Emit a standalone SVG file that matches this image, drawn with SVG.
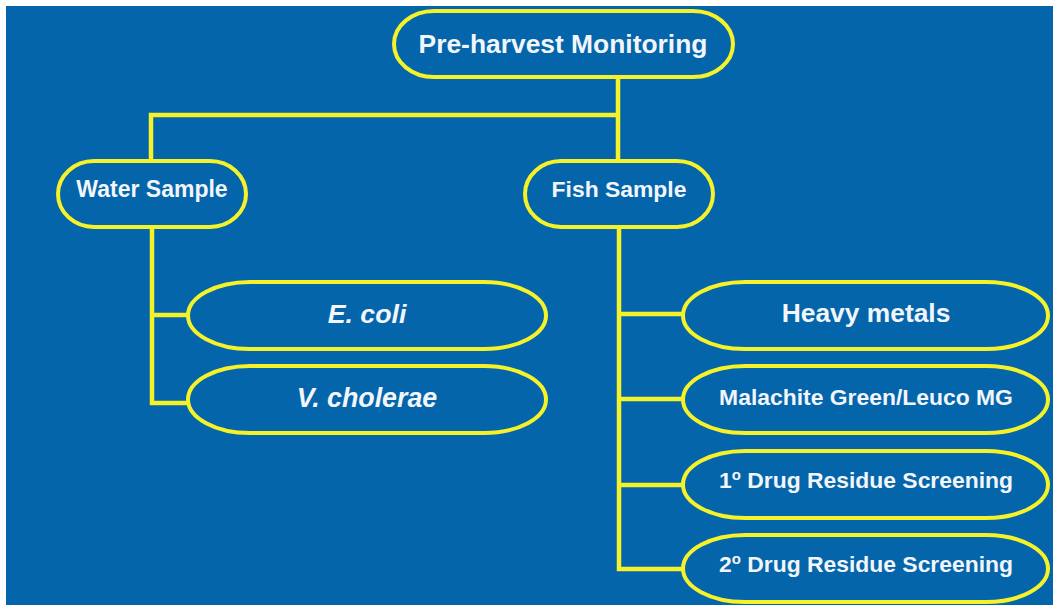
<svg xmlns="http://www.w3.org/2000/svg" width="1053" height="605" viewBox="0 0 1053 605">
<style>
.pill{fill:#0465AB;stroke:#F6F22A;stroke-width:4}
.con{fill:none;stroke:#F6F22A;stroke-width:4.5;stroke-linejoin:miter}
.t{font-family:"Liberation Sans",Arial,sans-serif;font-weight:bold;fill:#F2F5FA;text-anchor:middle}
</style>
<rect x="0" y="0" width="1053" height="605" fill="#ffffff"/>
<rect x="6" y="6" width="1047" height="599" fill="#0465AB"/>
<g id="connectors">
<path class="con" d="M618 78 V160 M151 160 V115 H618"/>
<path class="con" d="M152 228 V403 H188 M152 315 H188"/>
<path class="con" d="M619 228 V569 H683 M619 314 H683 M619 399 H683 M619 485 H683"/>
</g>
<g id="pre-harvest"><rect class="pill" x="394" y="11" width="339" height="66" rx="40" ry="33"/><text class="t" x="563" y="53" font-size="26.4">Pre-harvest Monitoring</text></g>
<g id="water"><rect class="pill" x="58" y="161" width="188" height="66" rx="36" ry="33"/><text class="t" x="152" y="197" font-size="23">Water Sample</text></g>
<g id="fish"><rect class="pill" x="525" y="161" width="188" height="66" rx="36" ry="33"/><text class="t" x="619" y="197" font-size="22.9">Fish Sample</text></g>
<g id="ecoli"><rect class="pill" x="188" y="282" width="358" height="67" rx="62" ry="33.5"/><text class="t" x="367" y="323" font-size="26.7" font-style="italic">E. coli</text></g>
<g id="vcholerae"><rect class="pill" x="188" y="366" width="358" height="67" rx="62" ry="33.5"/><text class="t" x="367" y="407" font-size="26.8" font-style="italic">V. cholerae</text></g>
<g id="heavy"><rect class="pill" x="683" y="282" width="365" height="67" rx="62" ry="33.5"/><text class="t" x="866" y="322" font-size="26.4">Heavy metals</text></g>
<g id="malachite"><rect class="pill" x="683" y="366" width="365" height="67" rx="62" ry="33.5"/><text class="t" x="866" y="405" font-size="22.9">Malachite Green/Leuco MG</text></g>
<g id="drug1"><rect class="pill" x="683" y="451" width="365" height="67" rx="62" ry="33.5"/><text class="t" x="866" y="488" font-size="22.9">1<tspan font-size="15" dy="-8">o</tspan><tspan dy="8"> Drug Residue Screening</tspan></text></g>
<g id="drug2"><rect class="pill" x="683" y="535" width="365" height="67" rx="62" ry="33.5"/><text class="t" x="866" y="572" font-size="22.9">2<tspan font-size="15" dy="-8">o</tspan><tspan dy="8"> Drug Residue Screening</tspan></text></g>
</svg>
